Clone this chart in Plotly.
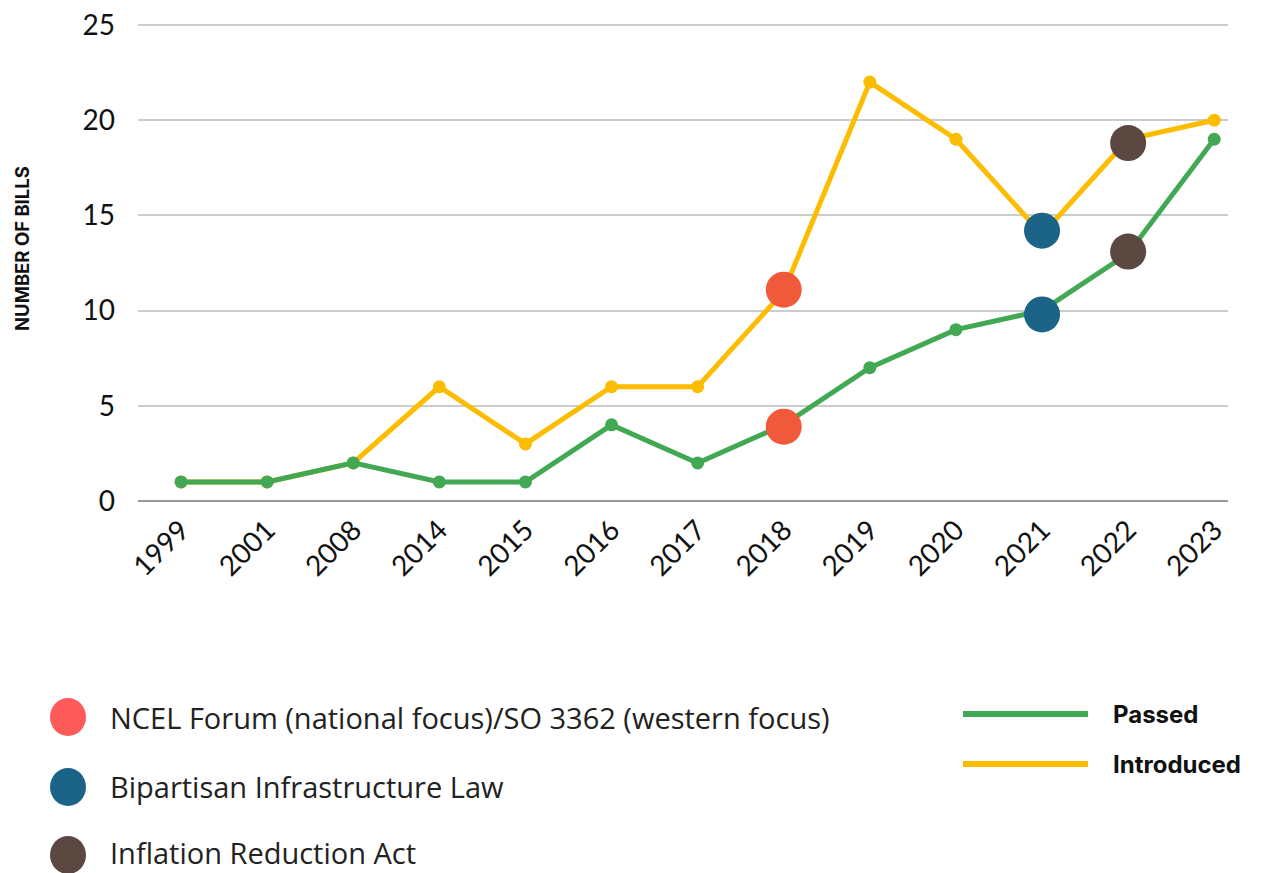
import plotly.graph_objects as go

years = ["1999", "2001", "2008", "2014", "2015", "2016", "2017", "2018", "2019", "2020", "2021", "2022", "2023"]
passed = [1, 1, 2, 1, 1, 4, 2, 4, 7, 9, 10, 13, 19]
introduced = [1, 1, 2, 6, 3, 6, 6, 11, 22, 19, 14, 19, 20]

events = ["NCEL Forum (national focus)/SO 3362 (western focus)", "Bipartisan Infrastructure Law", "Inflation Reduction Act"]
event_years = ["2018", "2021", "2022"]
event_introduced = [11.1, 14.2, 18.8]
event_passed = [3.9, 9.8, 13.1]
event_colors = ["#F05A3A", "#1B6387", "#5B4841"]
event_legend_colors = ["#FF5A5A", "#1B6387", "#5B4841"]

GREEN = "#43A853"
YELLOW = "#FCBC00"
idx = {y: i for i, y in enumerate(years)}
xs = list(range(len(years)))

fig = go.Figure()
fig.add_trace(go.Scatter(x=xs, y=introduced, mode="lines+markers", name="Introduced",
                         line=dict(color=YELLOW, width=5), marker=dict(size=13, color=YELLOW)))
fig.add_trace(go.Scatter(x=xs, y=passed, mode="lines+markers", name="Passed",
                         line=dict(color=GREEN, width=5), marker=dict(size=13, color=GREEN)))
for ev, yr, yi, yp, c in zip(events, event_years, event_introduced, event_passed, event_colors):
    fig.add_trace(go.Scatter(x=[idx[yr], idx[yr]], y=[yi, yp], mode="markers", name=ev,
                             marker=dict(size=36, color=c)))

PXU = 476 / 25
W, H = 1261, 873
L, T = 138, 23
R = W - 1228
B = H - 501
pw, ph = W - L - R, H - T - B
YMAX = 25 + 2 / PXU

def px(xp):
    return (xp - L) / pw

def py(yp):
    return (H - B - yp) / ph

shapes = []
annotations = []
for i, (ev, c) in enumerate(zip(events, event_legend_colors)):
    yy = [717, 787, 855][i]
    ty = [717, 787, 852][i]
    shapes.append(dict(type="circle", xref="paper", yref="paper", xsizemode="pixel", ysizemode="pixel",
                       xanchor=px(68), yanchor=py(yy), x0=-18, x1=18, y0=-19, y1=19,
                       fillcolor=c, line=dict(width=0)))
    annotations.append(dict(text=ev, xref="paper", yref="paper", x=px(108), y=py(ty),
                            xanchor="left", yanchor="middle", showarrow=False,
                            font=dict(family="Open Sans", size=29, color="#222222")))
for name, c, yy in [("Passed", GREEN, 714), ("Introduced", YELLOW, 764)]:
    shapes.append(dict(type="line", xref="paper", yref="paper", x0=px(963), x1=px(1088),
                       y0=py(yy), y1=py(yy), line=dict(color=c, width=6)))
    annotations.append(dict(text="<b>" + name + "</b>", xref="paper", yref="paper", x=px(1111), y=py(yy),
                            xanchor="left", yanchor="middle", showarrow=False,
                            font=dict(family="Inter", size=24, color="#111111")))
annotations.append(dict(text="<b>NUMBER OF BILLS</b>", xref="paper", yref="paper", x=px(22), y=py(249),
                        xanchor="center", yanchor="middle", textangle=-90, showarrow=False,
                        font=dict(family="Inter", size=18.5, color="#111111")))

fig.update_layout(
    width=W, height=H,
    margin=dict(l=L, r=R, t=T, b=B, autoexpand=False),
    paper_bgcolor="white", plot_bgcolor="white",
    showlegend=False,
    shapes=shapes, annotations=annotations,
    font=dict(family="Lato", color="#111111"),
)
fig.update_xaxes(range=[-0.5, 12.16], tickmode="array", tickvals=xs, ticktext=years,
                 tickangle=-45, tickfont=dict(family="Lato", size=28, color="#111111"),
                 showgrid=False, showline=False, zeroline=False, ticks="", ticklabelstandoff=6)
fig.update_yaxes(range=[0, YMAX], tickvals=[0, 5, 10, 15, 20, 25], showgrid=True, gridcolor="#CCCCCC",
                 gridwidth=1.5, zeroline=True, zerolinecolor="#999999", zerolinewidth=2,
                 tickfont=dict(family="Lato", size=28, color="#111111"), ticks="",
                 ticklabelstandoff=22, showline=False)

fig.write_html("out.html", config={"displayModeBar": False},
               post_script="document.body.style.margin='0';document.body.style.overflow='hidden';")
